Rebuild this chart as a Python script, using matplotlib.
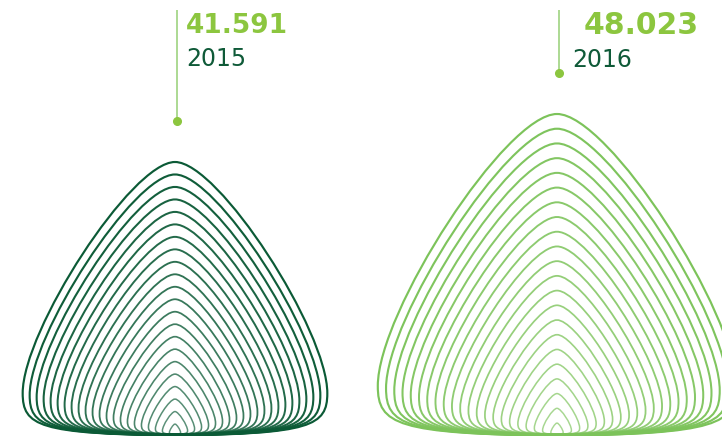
import numpy as np
import matplotlib.pyplot as plt
from matplotlib.path import Path
from matplotlib.patches import PathPatch

# data
years = ['2015', '2016']
values = [41.591, 48.023]

# layout (pixels)
centers = [175, 557]
heights = [272, 320]
base_y = 434
n_rings = 22
ring_colors = ['#0b5a36', '#7cc35a']
num_color = '#8cc63f'
year_color = '#0f5a38'
leader_color = '#a6d78a'
num_xy = [(186, 33), (584, 34)]
num_size = [19, 21.5]
year_xy = [(186, 66), (572, 67)]

# right half of a rounded triangle, unit height, base centre at origin
right = [(0.0, 1.0),
         (0.16, 1.0), (0.56, 0.38), (0.56, 0.15),
         (0.56, 0.03), (0.50, 0.0), (0.0, -0.005)]
right_codes = [Path.MOVETO] + [Path.CURVE4] * 6

# left half walks back up (mirror)
left = [(-x, y) for x, y in right[::-1]][1:]
left_codes = right_codes[1:][::-1]
shape = np.array(right + left)
codes = right_codes + left_codes


def outline(cx, h):
    v = shape.copy()
    v[:, 0] = cx + v[:, 0] * h
    v[:, 1] = base_y - v[:, 1] * h
    return Path(v, codes)


fig = plt.figure(figsize=(7.22, 4.36), dpi=100)
ax = fig.add_axes([0, 0, 1, 1])
ax.set_xlim(0, 722)
ax.set_ylim(436, 0)
ax.axis('off')

for k in range(len(years)):
    H = heights[k]
    top = base_y - H
    hmin = 10 + k
    for i in range(n_rings):
        h = H - i * (H - hmin) / (n_rings - 1)
        f = i / (n_rings - 1)
        ax.add_patch(PathPatch(outline(centers[k], h), fill=False,
                               edgecolor=ring_colors[k], lw=1.55 - 0.5 * f,
                               alpha=1 - 0.35 * f))
    # leader line and dot
    ax.plot([centers[k] + 2, centers[k] + 2], [10, top - 41],
            color=leader_color, lw=1.3, solid_capstyle='butt')
    ax.plot(centers[k] + 2, top - 41, 'o', color='#8cc63f', ms=5.5)
    ax.text(num_xy[k][0], num_xy[k][1], f'{values[k]:.3f}',
            color=num_color, fontsize=num_size[k], fontweight='bold',
            va='baseline')
    ax.text(year_xy[k][0], year_xy[k][1], years[k],
            color=year_color, fontsize=17, va='baseline')

fig.savefig('out.png', dpi=100)
